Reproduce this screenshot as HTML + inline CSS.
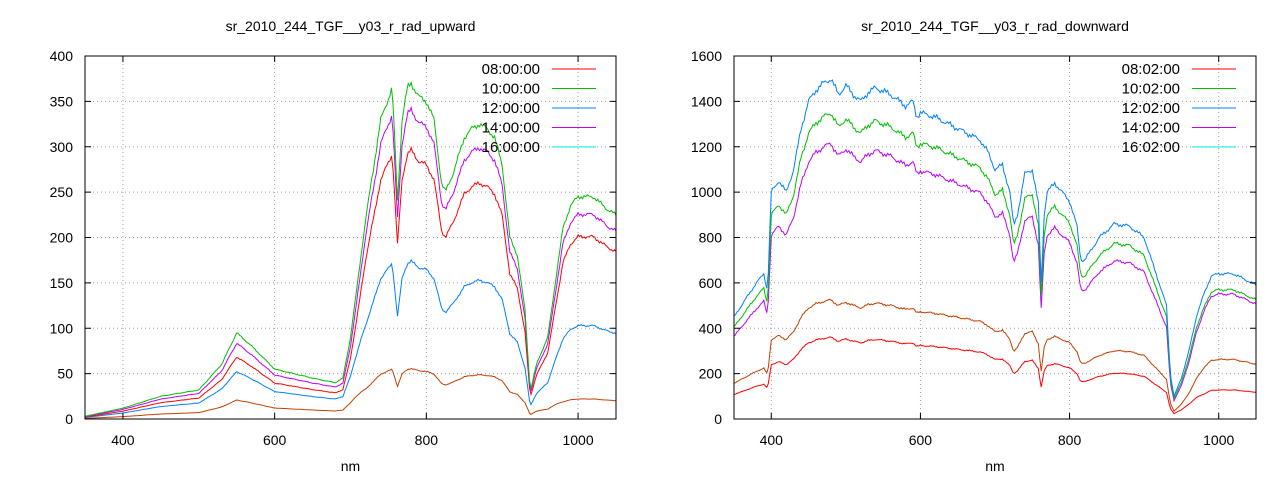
<!DOCTYPE html>
<html><head><meta charset="utf-8"><style>
body{margin:0;background:#fff}
svg{display:block;font-family:"Liberation Sans",sans-serif;font-size:14px}
</style></head><body>
<svg id="s" width="1280" height="480" xmlns="http://www.w3.org/2000/svg"></svg>
<script>
const S=document.getElementById('s');
let h='';
function interp(pts,x){for(let i=1;i<pts.length;i++){if(x<=pts[i][0]){const a=pts[i-1],b=pts[i];return a[1]+(b[1]-a[1])*(x-a[0])/(b[0]-a[0]);}}return pts[pts.length-1][1];}
function sc(c,nm){let lo=c.lo||c.s,fa=c.fa||c.s;if(nm<690)return lo;if(nm<720)return lo+(c.s-lo)*(nm-690)/30;if(nm<940)return c.s;if(nm<980)return c.s+(fa-c.s)*(nm-940)/40;return fa;}
function plot(o){
 const {x0,x1,y0,y1,ymax,ystep,title,shape,curves,lt}=o;
 const X=v=>x0+(v-350)/700*(x1-x0), Y=v=>y1-(v/ymax)*(y1-y0);
 for(let v=ystep;v<ymax;v+=ystep) h+=`<line x1="${x0}" x2="${x1}" y1="${Y(v)}" y2="${Y(v)}" stroke="#a0a0a0" stroke-dasharray="1,3"/>`;
 for(let v=400;v<=1000;v+=200) h+=`<line x1="${X(v)}" x2="${X(v)}" y1="${y0}" y2="${y1}" stroke="#a0a0a0" stroke-dasharray="1,3"/>`;
 curves.forEach((c,k)=>{let d='';for(let nm=350;nm<=1050;nm+=2){let v=interp(shape,nm)*sc(c,nm);v+=Math.sin(nm*0.37+k)*v*0.006+Math.sin(nm*1.71)*v*0.005;d+=(nm==350?'M':'L')+X(nm).toFixed(1)+','+Y(v).toFixed(1);}
  h+=`<path d="${d}" fill="none" stroke="${c.c}" stroke-width="1"/>`;});
 h+=`<rect x="${x0}" y="${y0}" width="${x1-x0}" height="${y1-y0}" fill="none" stroke="#000"/>`;
 for(let v=0;v<=ymax;v+=ystep){const y=Y(v);h+=`<line x1="${x0}" x2="${x0+6}" y1="${y}" y2="${y}" stroke="#000"/><line x1="${x1}" x2="${x1-6}" y1="${y}" y2="${y}" stroke="#000"/><text x="${x0-12}" y="${y+5}" text-anchor="end">${v}</text>`;}
 for(let v=400;v<=1000;v+=200){const x=X(v);h+=`<line x1="${x}" x2="${x}" y1="${y1}" y2="${y1-6}" stroke="#000"/><line x1="${x}" x2="${x}" y1="${y0}" y2="${y0+6}" stroke="#000"/><text x="${x}" y="${y1+26}" text-anchor="middle">${v}</text>`;}
 h+=`<text x="${(x0+x1)/2}" y="31" text-anchor="middle">${title}</text>`;
 h+=`<text x="${(x0+x1)/2}" y="471" text-anchor="middle">nm</text>`;
 const lc=['#ff0000','#00c000','#0080ff','#c000ff','#00eeee'];
 lt.forEach((t,i)=>{const y=69+i*19.5;h+=`<text x="${x1-76}" y="${y+5}" text-anchor="end" style="font-size:15px">${t}</text><line x1="${x1-64}" x2="${x1-20}" y1="${y}" y2="${y}" stroke="${lc[i]}"/>`;});
}
const up=[[350,3],[400,12],[450,25],[500,32],[530,60],[550,95],[570,80],[600,55],[650,45],[680,40],[690,45],[700,90],[720,220],[740,330],[755,365],[762,240],[768,330],[775,365],[780,370],[790,355],[800,350],[810,330],[820,260],[825,250],[835,270],[850,310],[860,320],[870,325],[880,320],[890,310],[900,280],[910,200],[920,180],[930,120],[937,30],[945,60],[960,90],[970,150],[980,210],[990,235],[1000,245],[1020,245],[1040,230],[1050,225]];
plot({x0:85,x1:616,y0:56,y1:419,ymax:400,ystep:50,title:'sr_2010_244_TGF__y03_r_rad_upward',shape:up,
 curves:[{c:'#c04000',s:0.15,lo:0.22,fa:0.09},{c:'#0080ff',s:0.47,lo:0.55,fa:0.42},{c:'#ff0000',s:0.8,lo:0.72,fa:0.82},{c:'#c000ff',s:0.92,lo:0.88,fa:0.92},{c:'#00c000',s:1}],
 lt:['08:00:00','10:00:00','12:00:00','14:00:00','16:00:00']});
const dn=[[350,450],[370,550],[380,600],[390,640],[395,560],[400,1000],[410,1050],[420,1000],[430,1100],[440,1280],[450,1400],[460,1450],[470,1480],[480,1500],[490,1430],[500,1470],[510,1430],[520,1400],[530,1440],[540,1460],[560,1430],[580,1380],[590,1400],[595,1330],[600,1350],[620,1330],[650,1280],[680,1230],[690,1180],[700,1100],[710,1120],[720,1000],[725,850],[730,900],[740,1080],[750,1100],[758,950],[762,600],[766,900],[770,1000],[780,1040],[800,960],[810,850],[815,700],[820,700],[840,800],[860,860],[880,850],[900,800],[910,700],[920,600],[930,500],[935,200],[940,100],[950,180],[960,300],[970,450],[980,550],[990,630],[1000,640],[1020,640],[1050,590]];
plot({x0:734,x1:1256,y0:56,y1:419,ymax:1600,ystep:200,title:'sr_2010_244_TGF__y03_r_rad_downward',shape:dn,
 curves:[{c:'#ff0000',s:0.235,lo:0.24,fa:0.2},{c:'#c04000',s:0.35,lo:0.35,fa:0.41},{c:'#c000ff',s:0.81,fa:0.86},{c:'#00c000',s:0.9,fa:0.89},{c:'#0080ff',s:1}],
 lt:['08:02:00','10:02:00','12:02:00','14:02:00','16:02:00']});
S.innerHTML=h;
</script>
</body></html>
